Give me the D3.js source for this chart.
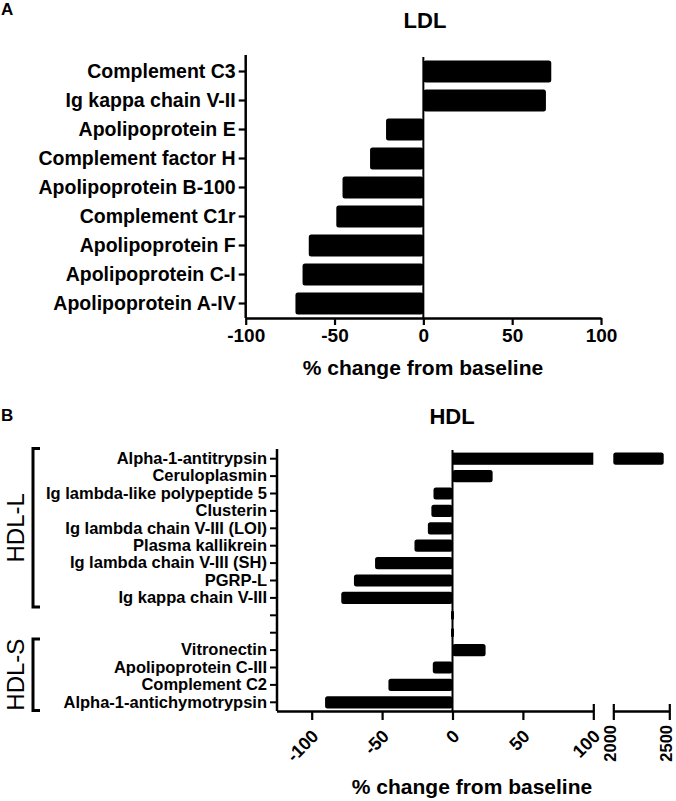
<!DOCTYPE html>
<html>
<head>
<meta charset="utf-8">
<script src="https://cdn.jsdelivr.net/npm/d3@7"></script>
<style>
  html, body { margin: 0; padding: 0; background: #fff; }
  svg { display: block; font-family: "Liberation Sans", Arial, Helvetica, sans-serif; }
</style>
</head>
<body>
<svg id="chart" width="676" height="801"></svg>
<script>
// ---------- Data ----------
const ldlCategories = ["Complement C3", "Ig kappa chain V-II", "Apolipoprotein E", "Complement factor H",
  "Apolipoprotein B-100", "Complement C1r", "Apolipoprotein F", "Apolipoprotein C-I", "Apolipoprotein A-IV"];
const ldlValues = [72, 69, -21, -30, -45.5, -49, -64.5, -68, -72];
const ldlTicks = [-100, -50, 0, 50, 100];

const hdlCategories = ["Alpha-1-antitrypsin", "Ceruloplasmin", "Ig lambda-like polypeptide 5", "Clusterin",
  "Ig lambda chain V-III (LOI)", "Plasma kallikrein", "Ig lambda chain V-III (SH)", "PGRP-L", "Ig kappa chain V-III",
  "", " ",
  "Vitronectin", "Apolipoprotein C-III", "Complement C2", "Alpha-1-antichymotrypsin"];
const hdlValues = [2450, 28.5, -13.5, -15, -17.5, -27, -55, -70, -79, 0, 0, 23.5, -14, -45.5, -90.5];
const hdlTicksLow = [-100, -50, 0, 50, 100];
const hdlTicksHigh = [2000, 2500];
const hdlGroupNames = ["HDL-L", "HDL-S"];
const hdlGroupRows = [[0, 8], [11, 14]];

// ---------- Setup ----------
const svg = d3.select("#chart");
const bold = "bold";
const fam = "Liberation Sans, Arial, sans-serif";
const fmt = d => String(d);   // plain hyphen minus, as in the reference

// ================= Panel A: LDL =================
const xA = d3.scaleLinear().domain([-100, 100]).range([245.7, 601]);
const yA = d3.scaleBand().domain(ldlCategories).range([57, 318]).paddingInner(0.24).paddingOuter(0.12);

svg.append("text").attr("x", 1).attr("y", 15).attr("font-size", 17).attr("font-weight", bold).text("A");
svg.append("text").attr("x", 425).attr("y", 28).attr("text-anchor", "middle")
  .attr("font-size", 22).attr("font-weight", bold).text("LDL");

const gA = svg.append("g");
gA.selectAll("rect.bar").data(ldlCategories).join("rect")
  .attr("class", "bar")
  .attr("x", (d, i) => Math.min(xA(0), xA(ldlValues[i])))
  .attr("width", (d, i) => Math.abs(xA(ldlValues[i]) - xA(0)))
  .attr("y", d => yA(d))
  .attr("height", yA.bandwidth())
  .attr("rx", 2.5)
  .attr("fill", "#000");

// zero line
gA.append("line").attr("x1", xA(0)).attr("x2", xA(0)).attr("y1", 57).attr("y2", 318)
  .attr("stroke", "#000").attr("stroke-width", 2);

// y axis
const yAxisA = gA.append("g").attr("transform", `translate(${xA(-100)},0)`)
  .call(d3.axisLeft(yA).tickSize(7).tickPadding(3));
yAxisA.select(".domain").attr("d", `M0,55V318`).attr("stroke-width", 2.5);
yAxisA.selectAll(".tick line").attr("stroke-width", 2.2);
yAxisA.selectAll(".tick text").attr("font-size", 19.5).attr("font-weight", bold)
  .attr("font-family", fam).attr("fill", "#000");

// x axis
const xAxisA = gA.append("g").attr("transform", `translate(0,318)`)
  .call(d3.axisBottom(xA).tickValues(ldlTicks).tickFormat(fmt).tickSize(7).tickPadding(4).tickSizeOuter(0));
xAxisA.select(".domain").attr("stroke-width", 2.5);
xAxisA.selectAll(".tick line").attr("stroke-width", 2.2);
xAxisA.selectAll(".tick text").attr("font-size", 19).attr("font-weight", bold)
  .attr("font-family", fam).attr("fill", "#000");

svg.append("text").attr("x", 423).attr("y", 375).attr("text-anchor", "middle")
  .attr("font-size", 21).attr("font-weight", bold).text("% change from baseline");

// ================= Panel B: HDL =================
const x1 = d3.scaleLinear().domain([-125, 100]).range([276.5, 593.3]);
const x2 = d3.scaleLinear().domain([2000, 2500]).range([613.3, 669.3]);
const yB = d3.scaleBand().domain(hdlCategories).range([450, 711]).paddingInner(0.3).paddingOuter(0.15);
const yAxisX = 277;
const axisY = 711;

svg.append("text").attr("x", 1).attr("y", 421).attr("font-size", 17).attr("font-weight", bold).text("B");
svg.append("text").attr("x", 452).attr("y", 424).attr("text-anchor", "middle")
  .attr("font-size", 22).attr("font-weight", bold).text("HDL");

const gB = svg.append("g");
hdlCategories.forEach((c, i) => {
  const v = hdlValues[i];
  const y = yB(c), h = yB.bandwidth();
  if (v > 100) {
    // broken bar: low segment up to 100, high segment from 2000
    gB.append("rect").attr("x", x1(0)).attr("y", y).attr("width", x1(100) - x1(0)).attr("height", h).attr("fill", "#000");
    gB.append("rect").attr("x", x2(2000)).attr("y", y).attr("width", x2(v) - x2(2000)).attr("height", h)
      .attr("rx", 2.5).attr("fill", "#000");
  } else if (v !== 0) {
    gB.append("rect").attr("x", Math.min(x1(0), x1(v))).attr("y", y)
      .attr("width", Math.abs(x1(v) - x1(0))).attr("height", h).attr("rx", 2.5).attr("fill", "#000");
  } else {
    gB.append("rect").attr("x", x1(0) - 1.5).attr("y", y + 2).attr("width", 3).attr("height", h - 4).attr("fill", "#000");
  }
});

// zero line
gB.append("line").attr("x1", x1(0)).attr("x2", x1(0)).attr("y1", 450).attr("y2", axisY)
  .attr("stroke", "#000").attr("stroke-width", 2);

// y axis
const yAxisB = gB.append("g").attr("transform", `translate(${yAxisX},0)`)
  .call(d3.axisLeft(yB).tickSize(7).tickPadding(3));
yAxisB.select(".domain").attr("d", `M0,449V${axisY}`).attr("stroke-width", 2.5);
yAxisB.selectAll(".tick line").attr("stroke-width", 2);
yAxisB.selectAll(".tick text").attr("font-size", 16.5).attr("font-weight", bold)
  .attr("font-family", fam).attr("fill", "#000");

// x axis, low segment
const xAxisB1 = gB.append("g").attr("transform", `translate(0,${axisY})`)
  .call(d3.axisBottom(x1).tickValues(hdlTicksLow).tickSize(9).tickSizeOuter(0).tickFormat(fmt));
xAxisB1.select(".domain").attr("stroke-width", 2.5);
xAxisB1.selectAll(".tick line").attr("stroke-width", 2.2)
  .attr("y1", d => d === 100 ? -7 : 0);
xAxisB1.selectAll(".tick text")
  .attr("font-size", 18).attr("font-weight", bold).attr("font-family", fam)
  .attr("fill", "#000").attr("text-anchor", "end")
  .attr("x", 0).attr("y", 0).attr("dy", "0.35em")
  .attr("transform", "translate(3,22) rotate(-45)");

// x axis, high segment
const xAxisB2 = gB.append("g").attr("transform", `translate(0,${axisY})`)
  .call(d3.axisBottom(x2).tickValues(hdlTicksHigh).tickSize(9).tickSizeOuter(0).tickFormat(fmt));
xAxisB2.select(".domain").attr("stroke-width", 2.5);
xAxisB2.selectAll(".tick line").attr("stroke-width", 2.2).attr("y1", -7);
xAxisB2.selectAll(".tick text")
  .attr("font-size", 16.5).attr("font-weight", bold).attr("font-family", fam)
  .attr("fill", "#000").attr("text-anchor", "end")
  .attr("x", 0).attr("y", 0).attr("dy", "0.3em")
  .attr("transform", "translate(-2.5,14) rotate(-90)");

svg.append("text").attr("x", 472).attr("y", 794).attr("text-anchor", "middle")
  .attr("font-size", 21).attr("font-weight", bold).text("% change from baseline");

// group brackets
hdlGroupRows.forEach((r, gi) => {
  const top = yB(hdlCategories[r[0]]) - (gi === 0 ? 4 : 5);
  const bot = yB(hdlCategories[r[1]]) + yB.bandwidth() + (gi === 0 ? 3 : 2);
  svg.append("path")
    .attr("d", `M40,${top}H33V${bot}H40`)
    .attr("fill", "none").attr("stroke", "#000").attr("stroke-width", 3);
  const cy = (top + bot) / 2;
  svg.append("text").attr("transform", `translate(24,${cy}) rotate(-90)`)
    .attr("text-anchor", "middle").attr("font-size", 24).attr("font-weight", "normal")
    .text(hdlGroupNames[gi]);
});
</script>
</body>
</html>
